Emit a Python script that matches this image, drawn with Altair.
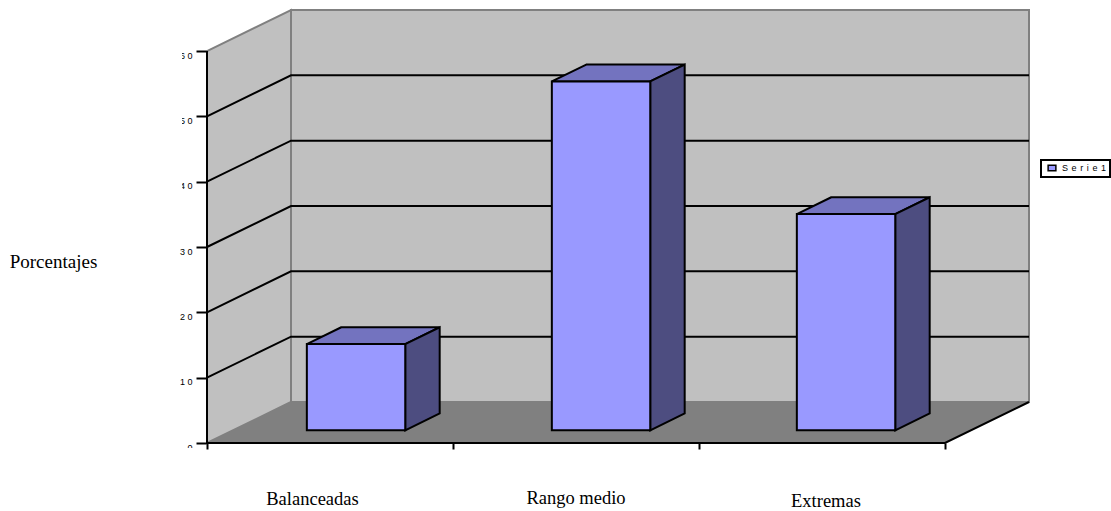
import altair as alt
import pandas as pd

# Chart content
categories = ["Balanceadas", "Rango medio", "Extremas"]
percentages = [13.2, 53.4, 33.1]
series_name = "Serie1"
y_ticks = [0, 10, 20, 30, 40, 50, 60]
x_ticks = [0, 1, 2, 3]
axis_title = "Porcentajes"

# Oblique projection of the box, in data units
PLOT_W, PLOT_H = 738, 392
X_MAX, Y_MAX = 3, 60
DEPTH_X = 84 / 246
DEPTH_Y = 41 / (PLOT_H / Y_MAX)
BAR_WIDTH = 0.4
BAR_PITCH = 245 / 246
BAR_DEPTH = 0.41          # share of the box depth taken by a bar
BAR_START = 0.31          # depth at which the front of a bar stands

WALL, FLOOR, EDGE = "#C0C0C0", "#808080", "#808080"
FRONT, TOP, SIDE = "#9999FF", "#7373BF", "#4D4D80"
SERIF, SANS = "Liberation Serif", "Liberation Sans"

x_scale = alt.Scale(domain=[0, X_MAX], nice=False, zero=False)
y_scale = alt.Scale(domain=[0, Y_MAX], nice=False, zero=False)

# Every layer carries the same axis definitions so that they merge cleanly
x_axis = alt.Axis(
    values=x_ticks, labels=False, title=None, grid=False, domain=False,
    tickColor="black", tickWidth=2, tickSize=6)
y_axis = alt.Axis(
    values=y_ticks, title=axis_title, titleAngle=0, titleFont=SERIF,
    titleFontSize=19, titleFontWeight="normal", titleColor="black",
    titleX=-154, titleY=210, titleAlign="center", titleBaseline="middle",
    grid=False, domain=False, tickColor="black", tickWidth=2, tickSize=11,
    labelFont=SANS, labelFontSize=9, labelColor="black", labelPadding=4,
    labelBaseline="top", labelExpr="join(split(datum.label, ''), '\u2009\u200a')")

X = lambda f="x": alt.X(f"{f}:Q", scale=x_scale, axis=x_axis)
Y = lambda f="y": alt.Y(f"{f}:Q", scale=y_scale, axis=y_axis)


def vertical_face(rows, fill, stroke=None, width=0):
    return alt.Chart(pd.DataFrame(rows)).mark_area(
        fill=fill, stroke=stroke, strokeWidth=width, orient="vertical", clip=False
    ).encode(x=X(), y=Y(), y2="y2:Q", detail="id:N")


def horizontal_face(rows, fill, stroke=None, width=0):
    return alt.Chart(pd.DataFrame(rows)).mark_area(
        fill=fill, stroke=stroke, strokeWidth=width, orient="horizontal", clip=False
    ).encode(y=Y(), x=X(), x2="x2:Q", detail="id:N")


def polyline(rows, color, width):
    return alt.Chart(pd.DataFrame(rows)).mark_line(
        color=color, strokeWidth=width, clip=False
    ).encode(x=X(), y=Y(), detail="id:N", order="o:Q")


# Strips that trim the tick labels where they run off the plot frame
trim_left = alt.Chart(pd.DataFrame({"a": [0]})).mark_rect(fill="white").encode(
    x=alt.value(-32), x2=alt.value(-25), y=alt.value(-6), y2=alt.value(140))
trim_low = alt.Chart(pd.DataFrame({"a": [0]})).mark_rect(fill="white").encode(
    x=alt.value(-32), x2=alt.value(-12), y=alt.value(397), y2=alt.value(405))

back_wall = vertical_face(
    [dict(id=0, x=DEPTH_X + px, y=DEPTH_Y, y2=Y_MAX + DEPTH_Y) for px in [0, X_MAX]],
    WALL, EDGE, 2)
left_wall = vertical_face(
    [dict(id=0, x=i * DEPTH_X, y=i * DEPTH_Y, y2=Y_MAX + i * DEPTH_Y) for i in range(2)],
    WALL, EDGE, 2)
floor = horizontal_face(
    [dict(id=0, y=i * DEPTH_Y, x=i * DEPTH_X, x2=X_MAX + i * DEPTH_X) for i in range(2)],
    FLOOR)

# Gridlines run along the left wall and then across the back wall
grid_rows = []
for v in y_ticks[1:-1]:
    grid_rows += [
        dict(id=v, o=0, x=0, y=v),
        dict(id=v, o=1, x=DEPTH_X, y=v + DEPTH_Y),
        dict(id=v, o=2, x=X_MAX + DEPTH_X, y=v + DEPTH_Y),
    ]
grid = polyline(grid_rows, "black", 2)

box_lines = polyline(
    [dict(id=0, o=0, x=0, y=Y_MAX), dict(id=0, o=1, x=0, y=0),
     dict(id=0, o=2, x=X_MAX, y=0), dict(id=0, o=3, x=X_MAX + DEPTH_X, y=DEPTH_Y)],
    "black", 2)

# Bars: front rectangle plus projected top and side faces
top_rows, side_rows, front_rows = [], [], []
for i, (cat, v) in enumerate(zip(categories, percentages)):
    left = BAR_START * DEPTH_X + 0.5 + i * BAR_PITCH - BAR_WIDTH / 2
    right = left + BAR_WIDTH
    base = BAR_START * DEPTH_Y
    top = base + v
    dx, dy = BAR_DEPTH * DEPTH_X, BAR_DEPTH * DEPTH_Y
    top_rows += [dict(id=i, y=top, x=left, x2=right),
                 dict(id=i, y=top + dy, x=left + dx, x2=right + dx)]
    side_rows += [dict(id=i, x=right, y=base, y2=top),
                  dict(id=i, x=right + dx, y=base + dy, y2=top + dy)]
    front_rows.append(dict(x=left, x2=right, y=base, y2=top, serie=series_name))

bar_top = horizontal_face(top_rows, TOP, "black", 2)
bar_side = vertical_face(side_rows, SIDE, "black", 2)
bar_front = alt.Chart(pd.DataFrame(front_rows)).mark_rect(
    stroke="black", strokeWidth=2, clip=False
).encode(
    x=X(), x2="x2:Q", y=Y(), y2="y2:Q",
    color=alt.Color("serie:N", scale=alt.Scale(range=[FRONT]), legend=alt.Legend(
        orient="none", legendX=834, legendY=109, title=None,
        strokeColor="black", padding=3,
        symbolType="M-1,-0.7H1V0.7H-1Z", symbolSize=60, symbolOffset=3,
        symbolStrokeColor="black", symbolStrokeWidth=1.5, symbolFillColor=FRONT,
        labelFont=SANS, labelFontSize=9, labelColor="black", labelOffset=5,
        labelLimit=70, labelExpr="join(split(datum.label, ''), '\u2009\u2009')")),
)

# Category captions sit well below the axis, each at its own height
labels = pd.DataFrame({"t": categories, "px": [105.5, 369, 619], "py": [448, 447, 450]})
captions = alt.Chart(labels).mark_text(
    font=SERIF, fontSize=18.5, color="black", baseline="middle"
).encode(x=alt.X("px:Q", scale=None), y=alt.Y("py:Q", scale=None), text="t:N")

chart = alt.layer(
    back_wall, left_wall, floor, grid, box_lines, trim_left, trim_low,
    bar_top, bar_side, bar_front, captions,
).properties(
    width=PLOT_W, height=PLOT_H,
    padding={"left": 207, "top": 51, "right": 166, "bottom": 68},
    autosize=alt.AutoSizeParams(type="none"),
    background="white",
).configure_view(stroke=None).configure_legend(strokeWidth=2)

chart.save("out.html", embed_options={"renderer": "svg", "actions": False})
